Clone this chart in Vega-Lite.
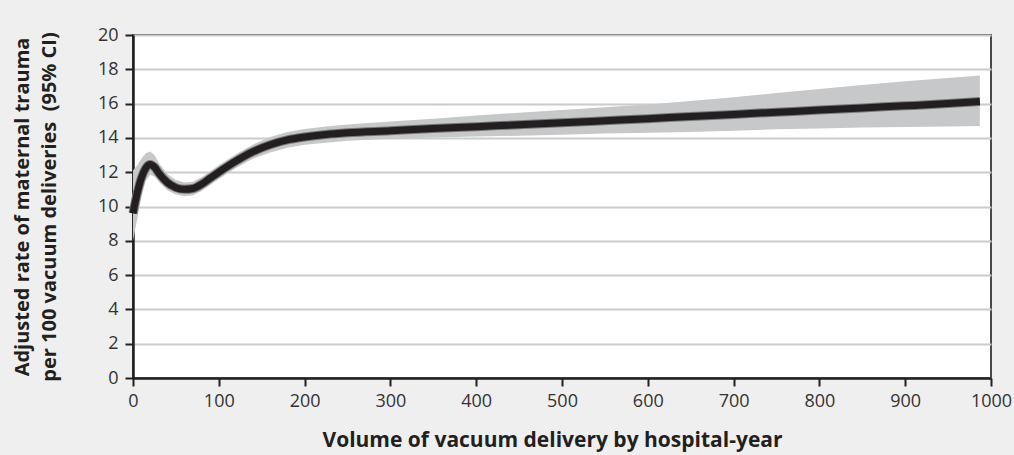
{
  "$schema": "https://vega.github.io/schema/vega-lite/v6.json",
  "autosize": {"type": "none"},
  "width": 858,
  "height": 343,
  "padding": {"left": 133, "top": 35, "right": 23, "bottom": 77},
  "background": "#efefef",
  "config": {
    "view": {"fill": "white", "stroke": "#4a4a4a", "strokeWidth": 2},
    "font": "Open Sans"
  },
  "data": {
    "values": [
      {"x": 0, "y": 9.6, "lo": 8.0, "hi": 12.1},
      {"x": 5, "y": 10.8, "lo": 9.3, "hi": 12.4},
      {"x": 10, "y": 11.7, "lo": 10.6, "hi": 12.8},
      {"x": 15, "y": 12.25, "lo": 11.5, "hi": 13.1},
      {"x": 20, "y": 12.45, "lo": 11.85, "hi": 13.2},
      {"x": 25, "y": 12.3, "lo": 11.75, "hi": 13.0},
      {"x": 30, "y": 11.95, "lo": 11.45, "hi": 12.55},
      {"x": 40, "y": 11.4, "lo": 10.95, "hi": 11.9},
      {"x": 50, "y": 11.1, "lo": 10.7, "hi": 11.55},
      {"x": 60, "y": 11.0, "lo": 10.6, "hi": 11.4},
      {"x": 70, "y": 11.05, "lo": 10.65, "hi": 11.45},
      {"x": 80, "y": 11.3, "lo": 10.9, "hi": 11.7},
      {"x": 90, "y": 11.65, "lo": 11.25, "hi": 12.05},
      {"x": 100, "y": 12.0, "lo": 11.6, "hi": 12.4},
      {"x": 120, "y": 12.65, "lo": 12.25, "hi": 13.05},
      {"x": 140, "y": 13.2, "lo": 12.8, "hi": 13.62},
      {"x": 160, "y": 13.6, "lo": 13.15, "hi": 14.05},
      {"x": 180, "y": 13.88, "lo": 13.43, "hi": 14.35},
      {"x": 200, "y": 14.05, "lo": 13.6, "hi": 14.52},
      {"x": 225, "y": 14.2, "lo": 13.72, "hi": 14.67},
      {"x": 250, "y": 14.3, "lo": 13.83, "hi": 14.78},
      {"x": 300, "y": 14.42, "lo": 13.95, "hi": 14.95},
      {"x": 350, "y": 14.55, "lo": 14.03, "hi": 15.12},
      {"x": 400, "y": 14.65, "lo": 14.08, "hi": 15.3},
      {"x": 450, "y": 14.77, "lo": 14.13, "hi": 15.47},
      {"x": 500, "y": 14.88, "lo": 14.18, "hi": 15.63},
      {"x": 550, "y": 15.0, "lo": 14.25, "hi": 15.78},
      {"x": 600, "y": 15.12, "lo": 14.3, "hi": 15.95},
      {"x": 650, "y": 15.25, "lo": 14.35, "hi": 16.15},
      {"x": 700, "y": 15.37, "lo": 14.42, "hi": 16.37},
      {"x": 750, "y": 15.5, "lo": 14.5, "hi": 16.62},
      {"x": 800, "y": 15.62, "lo": 14.55, "hi": 16.85},
      {"x": 850, "y": 15.75, "lo": 14.6, "hi": 17.08},
      {"x": 900, "y": 15.87, "lo": 14.64, "hi": 17.3},
      {"x": 950, "y": 16.0, "lo": 14.67, "hi": 17.5},
      {"x": 987, "y": 16.12, "lo": 14.7, "hi": 17.64}
    ]
  },
  "encoding": {
    "x": {
      "field": "x", "type": "quantitative",
      "scale": {"domain": [0, 1000], "nice": false},
      "axis": {
        "values": [0, 100, 200, 300, 400, 500, 600, 700, 800, 900, 1000],
        "format": "d",
        "title": "Volume of vacuum delivery by hospital-year",
        "titleFont": "Open Sans", "titleFontSize": 21, "titleFontWeight": "bold", "titleColor": "#231f20",
        "titleX": 419, "titleY": 51, "titleBaseline": "top",
        "labelFont": "Open Sans", "labelFontSize": 18, "labelColor": "#333333", "labelPadding": 6,
        "labelFlush": false,
        "domainColor": "#231f20", "domainWidth": 2.5,
        "tickColor": "#231f20", "tickWidth": 2, "tickSize": 8,
        "grid": false
      }
    },
    "y": {
      "type": "quantitative",
      "scale": {"domain": [0, 20], "nice": false},
      "axis": {
        "values": [0, 2, 4, 6, 8, 10, 12, 14, 16, 18, 20],
        "title": ["Adjusted rate of maternal trauma", "per 100 vacuum deliveries \u00a0(95% CI)"],
        "titleFont": "Open Sans", "titleFontSize": 20, "titleFontWeight": "bold", "titleColor": "#231f20",
        "titleLineHeight": 27,
        "titleX": -101, "titleY": 171.5, "titleAngle": -90, "titleAlign": "center", "titleBaseline": "bottom",
        "labelFont": "Open Sans", "labelFontSize": 18, "labelColor": "#333333", "labelPadding": 7,
        "labelFlush": false,
        "domainColor": "#231f20", "domainWidth": 2.5,
        "tickColor": "#231f20", "tickWidth": 2, "tickSize": 8,
        "grid": true, "gridColor": "#cccccc", "gridWidth": 2
      }
    }
  },
  "layer": [
    {
      "mark": {"type": "area", "color": "#c7c8ca", "opacity": 1},
      "encoding": {"y": {"field": "lo", "type": "quantitative"}, "y2": {"field": "hi"}}
    },
    {
      "mark": {"type": "line", "color": "#7a7a7a", "strokeWidth": 9, "interpolate": "monotone", "strokeCap": "butt"},
      "encoding": {"y": {"field": "y", "type": "quantitative"}}
    },
    {
      "mark": {"type": "line", "color": "#231f20", "strokeWidth": 7, "interpolate": "monotone", "strokeCap": "butt"},
      "encoding": {"y": {"field": "y", "type": "quantitative"}}
    }
  ]
}
